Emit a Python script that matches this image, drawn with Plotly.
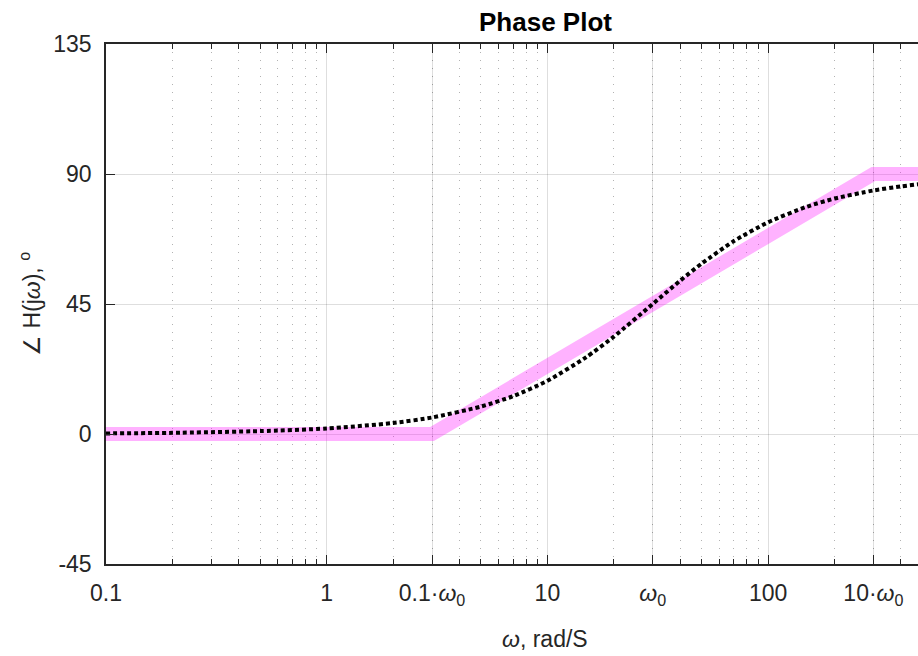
import plotly.graph_objects as go

# Frequency axis (rad/s) and break frequency
w0 = 30
major_ticks = [0.1, 1, 3, 10, 30, 100, 300]
major_labels = ["0.1", "1", "0.1·<i>ω</i><sub>0</sub>", "10", "<i>ω</i><sub>0</sub>", "100",
                "10·<i>ω</i><sub>0</sub>"]
minor_ticks = [m * 10.0 ** e for e in range(-1, 3) for m in range(2, 10)]

# Straight-line (asymptotic) approximation of the phase
asym_w = [0.1, 3, 300, 1000]
asym_phase = [0, 0, 90, 90]

# Exact phase response, degrees
exact_w = [0.1, 0.2, 0.5, 1, 2, 3, 5, 7, 10, 15, 20, 30, 40, 50, 70, 100, 150, 200, 300, 400, 500, 700, 1000]
exact_phase = [0.2, 0.4, 1.0, 1.9, 3.8, 5.7, 9.5, 13.1, 18.4, 26.6, 33.7, 45.0, 53.1, 59.0, 66.8, 73.3,
               78.7, 81.5, 84.3, 85.7, 86.6, 87.5, 88.3]

y_ticks = [-45, 0, 45, 90, 135]
y_labels = ["-45", "0", "45", "90", "135"]

axis_col = "#262626"
font = "Liberation Sans, Arial, sans-serif"

fig = go.Figure()
fig.add_trace(go.Scatter(
    x=asym_w, y=asym_phase, mode="lines",
    line=dict(color="rgba(255,0,255,0.3)", width=14),
    hoverinfo="skip", showlegend=False,
))
fig.add_trace(go.Scatter(
    x=exact_w, y=exact_phase, mode="lines",
    line=dict(color="black", width=4, dash="4px,3px", shape="spline", smoothing=0.6),
    showlegend=False,
))

W, H = 918, 656
left, right, top, bottom = 106, 0, 44, 92
px_per_dec = 220.7
x_end = -1 + (W - left - right) / px_per_dec

fig.update_layout(
    width=W, height=H,
    margin=dict(l=left, r=right, t=top, b=bottom),
    paper_bgcolor="white", plot_bgcolor="white",
    font=dict(family=font, size=23, color=axis_col),
    xaxis=dict(
        type="log", range=[-1, x_end],
        tickmode="array", tickvals=major_ticks, ticktext=major_labels,
        ticks="inside", ticklen=9, tickwidth=1, tickcolor=axis_col,
        showline=True, linecolor=axis_col, linewidth=1.5, mirror="ticks",
        showgrid=True, gridcolor="rgba(0,0,0,0.13)", gridwidth=1,
        minor=dict(tickmode="array", tickvals=minor_ticks, ticks="inside", ticklen=5,
                   tickcolor=axis_col, showgrid=True, gridcolor="rgba(0,0,0,0.3)",
                   griddash="1px,7px", gridwidth=1),
        zeroline=False, ticklabelstandoff=8,
        tickfont=dict(size=23, color=axis_col),
    ),
    yaxis=dict(
        range=[-45, 135], tickmode="array", tickvals=y_ticks, ticktext=y_labels,
        ticks="inside", ticklen=9, tickwidth=1, tickcolor=axis_col,
        showline=True, linecolor=axis_col, linewidth=1.5, mirror=False,
        showgrid=True, gridcolor="rgba(0,0,0,0.13)", gridwidth=1,
        zeroline=False, ticklabelstandoff=8,
        tickfont=dict(size=23, color=axis_col),
    ),
)

plot_w = W - left - right
cx = (545 - left) / plot_w

fig.add_annotation(text="<b>Phase Plot</b>", xref="paper", yref="paper",
                   x=cx, y=1, yshift=5, yanchor="bottom", xanchor="center",
                   showarrow=False, font=dict(size=26, color="black", family=font))
fig.add_annotation(text="<i>ω</i>, rad/S", xref="paper", yref="paper",
                   x=cx, y=0, yshift=-60, yanchor="top", xanchor="center",
                   showarrow=False, font=dict(size=23, color=axis_col, family=font))
fig.add_annotation(text="∠ H(j<i>ω</i>), <sup>o</sup>", xref="paper", yref="paper",
                   x=0, xshift=-76, y=0.5, xanchor="center", yanchor="middle", textangle=-90,
                   showarrow=False, font=dict(size=23, color=axis_col, family=font))

fig.write_html("out.html")
